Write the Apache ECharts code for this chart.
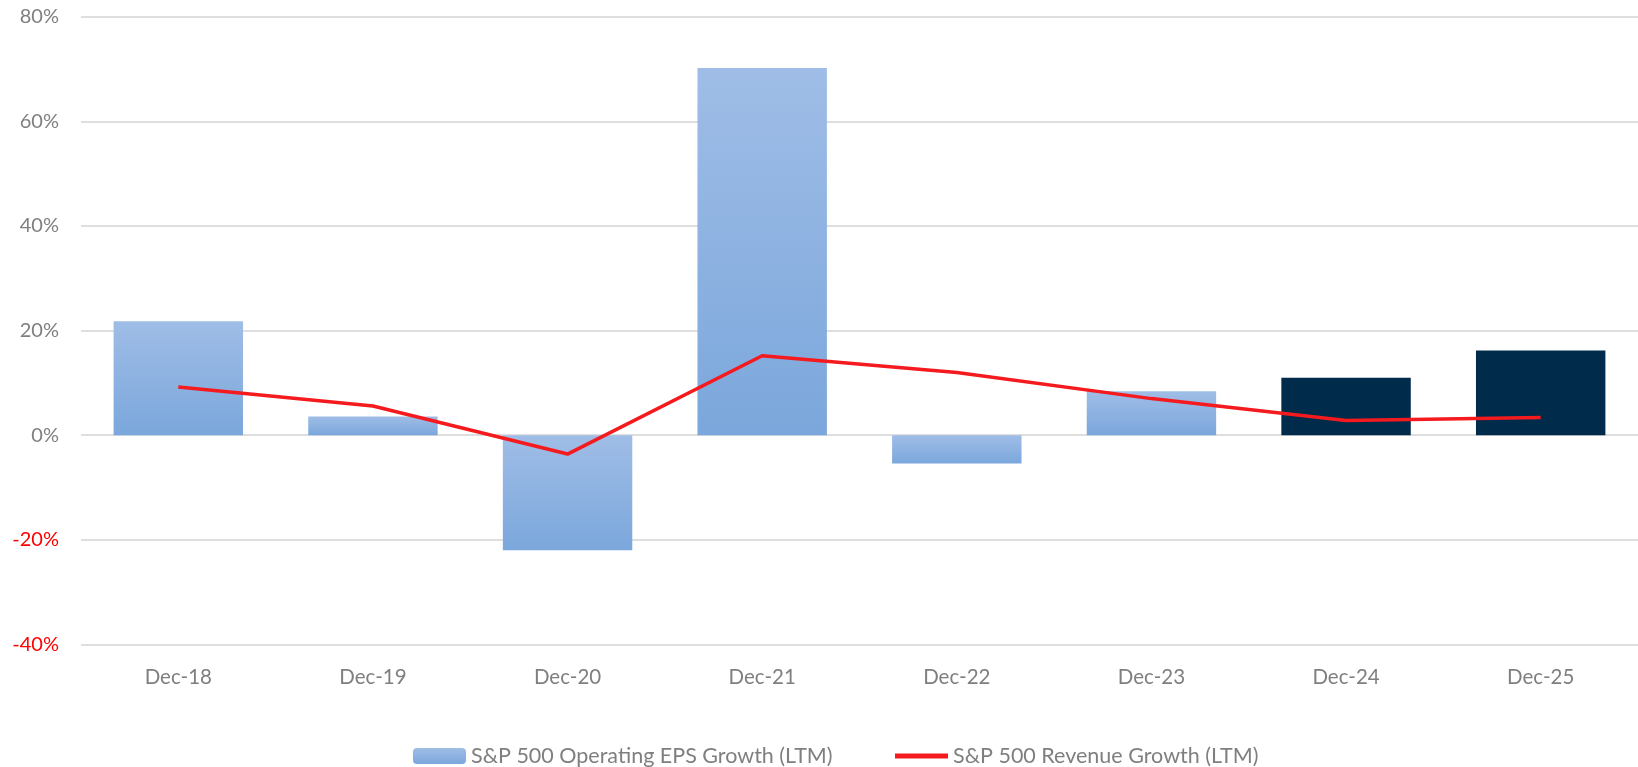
<!DOCTYPE html>
<html>
<head>
<meta charset="utf-8">
<script src="https://cdn.jsdelivr.net/npm/echarts@6/dist/echarts.min.js"></script>
<style>
  html, body { margin: 0; padding: 0; background: #fff; }
  #chart { width: 1638px; height: 767px; }
</style>
</head>
<body>
<div id="chart"></div>
<script>
const categories = ['Dec-18', 'Dec-19', 'Dec-20', 'Dec-21', 'Dec-22', 'Dec-23', 'Dec-24', 'Dec-25'];
const epsGrowth = [21.8, 3.6, -22.0, 70.2, -5.4, 8.4, 11.0, 16.2];
const revenueGrowth = [9.2, 5.6, -3.6, 15.2, 12.0, 7.0, 2.8, 3.4];
const estimateCats = ['Dec-24', 'Dec-25']; // drawn dark
const yTicks = { min: -40, max: 80, step: 20 };

const FONT = 'Lato';
const GREY = '#7f7f7f';

const lightBlue = new echarts.graphic.LinearGradient(0, 0, 0, 1, [
  { offset: 0, color: '#9fbde6' },
  { offset: 1, color: '#7ba7dc' }
]);

const chart = echarts.init(document.getElementById('chart'));

chart.setOption({
  backgroundColor: '#fff',
  animation: false,
  grid: { left: 81, right: 0, top: 16.7, bottom: 122.5, containLabel: false },
  legend: {
    left: 408,
    top: 740,
    itemWidth: 53,
    itemHeight: 16,
    itemGap: 60,
    textStyle: { fontFamily: FONT, fontSize: 21.5, color: GREY },
    data: [
      'S&P 500 Operating EPS Growth (LTM)',
      {
        name: 'S&P 500 Revenue Growth (LTM)',
        itemStyle: { opacity: 0 },
        lineStyle: { width: 5 }
      }
    ]
  },
  xAxis: {
    type: 'category',
    data: categories,
    axisLine: { show: false },
    axisTick: { show: false },
    axisLabel: { fontFamily: FONT, fontSize: 20.5, color: GREY, margin: 22 }
  },
  yAxis: {
    type: 'value',
    min: yTicks.min,
    max: yTicks.max,
    interval: yTicks.step,
    axisLine: { show: false },
    axisTick: { show: false },
    splitLine: { lineStyle: { color: '#dedede', width: 2 } },
    axisLabel: {
      fontFamily: FONT,
      fontSize: 20,
      margin: 22,
      formatter: '{value}%',
      color: function (v) { return Number(v) < 0 ? '#ff0000' : GREY; }
    }
  },
  series: [
    {
      name: 'S&P 500 Operating EPS Growth (LTM)',
      type: 'bar',
      barCategoryGap: '33.5%',
      itemStyle: { color: lightBlue },
      data: epsGrowth.map(function (v, i) {
        if (estimateCats.indexOf(categories[i]) >= 0) {
          return { value: v, itemStyle: { color: '#012b4a' } };
        }
        return v;
      })
    },
    {
      name: 'S&P 500 Revenue Growth (LTM)',
      type: 'line',
      symbol: 'none',
      z: 5,
      lineStyle: { color: '#f51a1e', width: 3.5 },
      itemStyle: { color: '#f51a1e' },
      data: revenueGrowth
    }
  ]
});
</script>
</body>
</html>
